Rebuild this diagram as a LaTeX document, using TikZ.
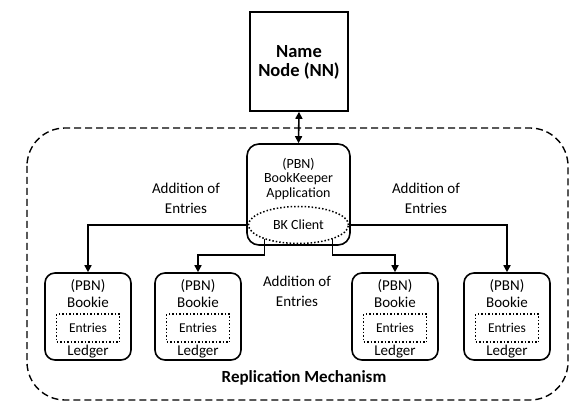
\documentclass[tikz,border=0pt]{standalone}
\usepackage{fontspec}
\setmainfont{Carlito}
\usetikzlibrary{arrows.meta}
\usetikzlibrary{shapes.geometric}

\begin{document}
\begin{tikzpicture}[x=1pt, y=-1pt,
  box/.style={draw, line width=1.6pt, inner sep=0pt},
  bookie/.style={box, rounded corners=10pt, minimum width=86pt, minimum height=87pt},
  entries/.style={draw, dotted, line width=1.5pt, minimum width=63pt, minimum height=28pt, inner sep=0pt, font=\fontsize{13.5}{15}\selectfont},
  txt/.style={align=center, inner sep=0pt, font=\fontsize{15}{17}\selectfont},
  lbl/.style={align=center, inner sep=0pt, font=\fontsize{15}{20}\selectfont},
  arr/.style={line width=1.6pt, -{Triangle[length=7pt, width=7pt]}}]
\useasboundingbox (0,0) rectangle (578,403);
% replication area
\draw[dashed, dash pattern=on 7pt off 4pt, line width=1.4pt, rounded corners=38pt] (27,128) rectangle (568,400);
\node[font=\bfseries\fontsize{17}{19}\selectfont] (rep) at (304,378) {Replication Mechanism};
% name node
\node[box, minimum width=98pt, minimum height=99pt] (nn) at (299,61.5) {};
\node[align=center, font=\bfseries\fontsize{18.5}{19}\selectfont] (nnt) at (299,62) {Name\\Node (NN)};
% bookkeeper application
\node[box, rounded corners=12pt, minimum width=103pt, minimum height=101pt] (app) at (298.5,194.5) {};
\node[align=center, inner sep=0pt, font=\fontsize{14}{14.5}\selectfont] (appt) at (298.5,179) {(PBN)\\BookKeeper\\Application};
\node[ellipse, draw, dotted, line width=1.5pt, minimum width=100pt, minimum height=37pt, inner sep=0pt, font=\fontsize{14}{15}\selectfont] (bk) at (298.5,225) {BK Client};
\draw[line width=1.6pt, {Triangle[length=7pt, width=7pt]}-{Triangle[length=7pt, width=7pt]}] (nn.south) -- (app.north);
% bookies
\node[bookie] (b1) at (88,316.5) {};
\node[txt] (b1t) at (88,293.5) {(PBN)\\Bookie};
\node[entries] (e1) at (88,328) {Entries};
\node[txt] (l1) at (88,352) {Ledger};
\node[bookie] (b2) at (198,316.5) {};
\node[txt] (b2t) at (198,293.5) {(PBN)\\Bookie};
\node[entries] (e2) at (198,328) {Entries};
\node[txt] (l2) at (198,352) {Ledger};
\node[bookie] (b3) at (395,316.5) {};
\node[txt] (b3t) at (395,293.5) {(PBN)\\Bookie};
\node[entries] (e3) at (395,328) {Entries};
\node[txt] (l3) at (395,352) {Ledger};
\node[bookie] (b4) at (507,316.5) {};
\node[txt] (b4t) at (507,293.5) {(PBN)\\Bookie};
\node[entries] (e4) at (507,328) {Entries};
\node[txt] (l4) at (507,352) {Ledger};
% addition of entries
\coordinate (m2) at (232,255);
\coordinate (m3) at (365,255);
\draw[arr] (bk.west) -| (b1.north);
\draw[arr] (bk.east) -| (b4.north);
\draw[arr] (bk.203) |- (m2) -| (b2.north);
\draw[arr] (bk.337) |- (m3) -| (b3.north);
\node[lbl] (add1) at (186,198) {Addition of\\Entries};
\node[lbl] (add2) at (426,198) {Addition of\\Entries};
\node[lbl] (add3) at (297,291) {Addition of\\Entries};
\end{tikzpicture}
\end{document}
